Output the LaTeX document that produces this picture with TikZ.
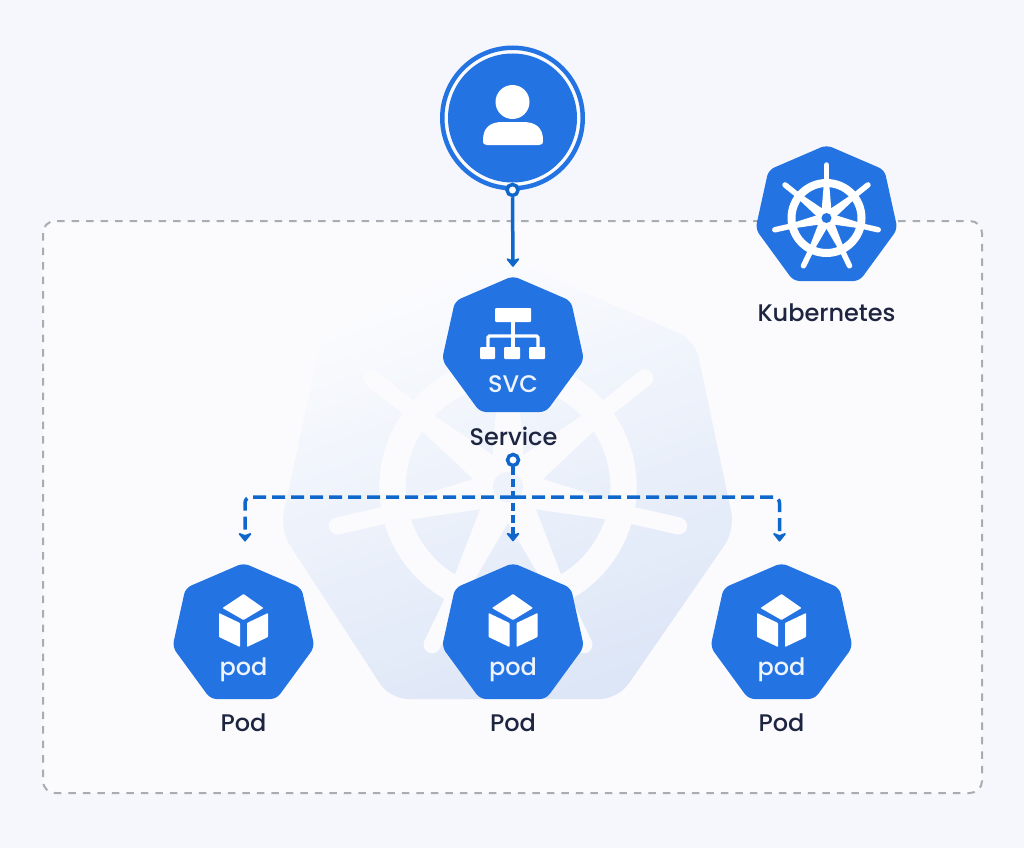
\documentclass[tikz,border=0pt]{standalone}
\usepackage{fontspec}
\setmainfont{Poppins}[UprightFont=*-Medium]
\usetikzlibrary{arrows.meta,calc}
\definecolor{pagebg}{HTML}{F5F7FC}
\definecolor{panelbg}{HTML}{FBFBFD}
\definecolor{dashgray}{HTML}{A9ADB3}
\definecolor{kblue}{HTML}{2473E3}
\definecolor{linkblue}{HTML}{0F67CC}
\definecolor{labelink}{HTML}{1E2540}
\definecolor{iconwhite}{HTML}{FFFFFF}
\definecolor{shadeA}{HTML}{FBFCFE}
\definecolor{shadeB}{HTML}{DDE6F7}
\tikzset{
  x=1pt,y=-1pt,
  heptafill/.style={fill=kblue,rounded corners=6pt},
  heptabox/.style={draw=none,inner sep=0pt,minimum width=142pt,minimum height=136pt},
  iconbox/.style={fill=iconwhite,rounded corners=1pt},
  label/.style={font=\fontsize{24}{26}\selectfont,text=labelink,inner sep=0pt},
  icontext/.style={font=\fontsize{24}{26}\selectfont,text=iconwhite!92!kblue,inner sep=0pt},
  solidlink/.style={draw=linkblue,line width=3.5pt,-{Stealth[length=10pt,width=16pt,inset=3pt,round]}},
  dashlink/.style={draw=linkblue,line width=3.5pt,-{Stealth[length=10pt,width=16pt,inset=3pt,round]},rounded corners=6pt},
  portdot/.style={circle,draw=linkblue,line width=3.5pt,fill=iconwhite,minimum size=11pt,inner sep=0pt},
}
\newcommand{\heptashape}{%
  \fill[heptafill] (29,12.5) -- (58,25) -- (71,84) -- (33,136) -- (-33,136) -- (-71,84) -- (-58,25) -- (0,0) -- cycle;}
\newcommand{\wheelstrokes}[6]{% x, y, handle length, colour, scale, handle width
  \begin{scope}[shift={(#1,#2)},draw=#4,line cap=round]
    \draw[line width=#5*8pt] (0,0) circle[radius=#5*35];
    \foreach \a in {90,38.57,-12.86,-64.29,-115.71,-167.14,141.43}{
      \draw[line width=#5*#6pt] ({#5*30*cos(\a)},{-#5*30*sin(\a)}) -- ({#3*cos(\a)},{-#3*sin(\a)});
      \fill[#4] ({#5*5.5*sin(\a)},{#5*5.5*cos(\a)}) -- ({#5*33*cos(\a)+#5*2.8*sin(\a)},{-#5*33*sin(\a)+#5*2.8*cos(\a)})
        -- ({#5*33*cos(\a)-#5*2.8*sin(\a)},{-#5*33*sin(\a)-#5*2.8*cos(\a)}) -- ({-#5*5.5*sin(\a)},{-#5*5.5*cos(\a)}) -- cycle;
    }
    \fill[#4] (0,0) circle[radius=#5*9.5];
  \end{scope}}
\begin{document}
\begin{tikzpicture}
\useasboundingbox (0,0) rectangle (1024,848);
\fill[pagebg] (0,0) rectangle (1024,848);
% panel
\path[fill=panelbg,draw=dashgray,line width=2pt,dash pattern=on 7.5pt off 7pt,rounded corners=12pt]
  (43,221) rectangle (982,793);
% watermark
\shade[top color=shadeA,bottom color=shadeB,shading angle=20,rounded corners=18pt]
  (420,295) -- (508,260) -- (695,340) -- (735,530) -- (618,699) -- (390,699) -- (280,530) -- (321,340) -- cycle;
\wheelstrokes{508}{487}{175}{panelbg}{3.3}{5.2}
\fill[shadeB!45!shadeA] (508,487) circle[radius=15];
% user
\node[circle,draw=kblue,line width=4.5pt,fill=panelbg,minimum size=140.5pt,inner sep=0pt] (user) at (512.5,118) {};
\fill[kblue] (512.5,118) circle[radius=64.5];
\fill[iconwhite] (512.5,102) circle[radius=17];
\fill[iconwhite] (483,140) .. controls (483,128) and (490,122) .. (502,122) -- (523,122)
  .. controls (536,122) and (543,128) .. (543,140) .. controls (543,144) and (542,145) .. (539,145)
  -- (487,145) .. controls (484,145) and (483,144) .. (483,140) -- cycle;
% service
\begin{scope}[shift={(513,276)}]
  \heptashape
  \fill[iconbox] (-18,32) rectangle (18,46);
  \draw[iconwhite,line width=3.2pt] (0,46) -- (0,71);
  \draw[iconwhite,line width=3.2pt,rounded corners=1.5pt] (-25,71) -- (-25,60) -- (25,60) -- (25,71);
  \fill[iconbox] (-33,71) rectangle (-18,83);
  \fill[iconbox] (-9,71) rectangle (7,83);
  \fill[iconbox] (16,71) rectangle (32,83);
  \node[icontext] at (0,108) {SVC};
\end{scope}
\node[heptabox] (svc) at (513,344) {};
\node[label] (svclabel) at (513.5,436) {Service};
% kubernetes
\begin{scope}[shift={(826.5,145)}]
  \heptashape
\end{scope}
\wheelstrokes{826.5}{218}{53}{white}{1}{5.5}
\fill[kblue] (826.5,218) circle[radius=5];
\node[heptabox] (k8s) at (826.5,213) {};
\node[label] (k8slabel) at (826.5,313) {Kubernetes};
% pods
\foreach \n/\px in {1/243.5,2/513,3/781.5}{
  \begin{scope}[shift={(\px,563)}]
    \heptashape
    \fill[iconwhite,rounded corners=.7pt] (0,31) -- (20,45) -- (0,57) -- (-21,45) -- cycle;
    \fill[iconwhite,rounded corners=.7pt] (-24.5,50) -- (-3.5,60) -- (-3.5,84) -- (-24.5,74) -- cycle;
    \fill[iconwhite,rounded corners=.7pt] (24.5,50) -- (3.5,60) -- (3.5,84) -- (24.5,74) -- cycle;
    \node[icontext,anchor=base] at (0,112) {pod};
  \end{scope}
  \node[heptabox] (pod\n) at (\px,631) {};
  \node[label] (podlabel\n) at (\px,723) {Pod};
}
% connectors
\node[portdot] (userport) at (512.5,190) {};
\node[portdot] (svcport) at (513,460) {};
\coordinate (hub) at (513,497);
\coordinate (podin1) at (245,563);
\coordinate (podin3) at (779.5,563);
\draw[solidlink,shorten >=9pt] (userport) -- (svc.north);
\draw[dashlink,dash pattern=on 8pt off 4pt,shorten >=21.5pt] (svcport) -- (pod2.north);
\draw[dashlink,dash pattern=on 13pt off 6pt,shorten >=21.5pt] (hub) -| (podin1);
\draw[dashlink,dash pattern=on 13pt off 6pt,shorten >=21.5pt] (hub) -| (podin3);
\end{tikzpicture}
\end{document}
